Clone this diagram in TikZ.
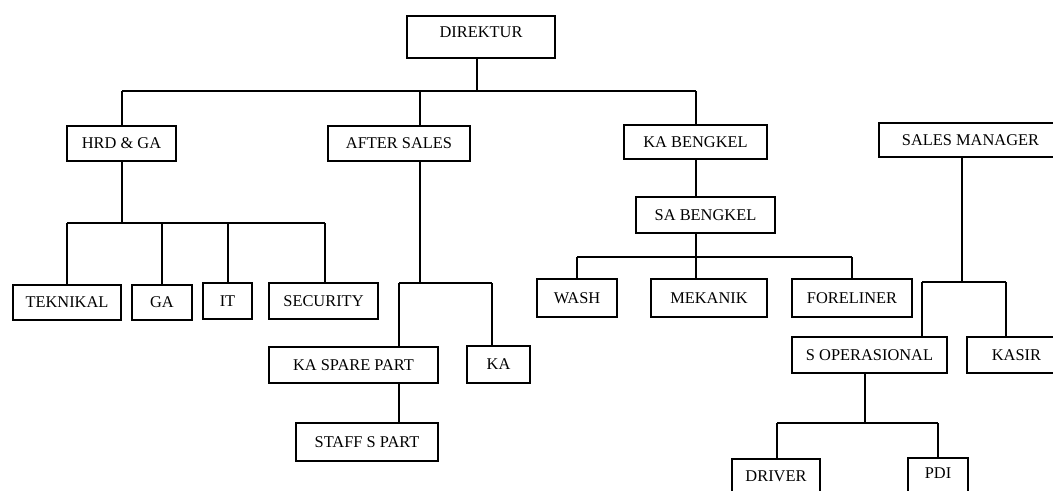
\documentclass[tikz,border=0pt]{standalone}
\usepackage{fontspec}
\setmainfont{Liberation Serif}
\usetikzlibrary{fit}
\tikzset{
  unit/.style={draw=black, line width=1.6pt, inner sep=0pt},
  unitlabel/.style={inner sep=0pt, font=\fontsize{12.3}{14}\selectfont},
  conn/.style={draw=black, line width=1.1pt},
  connthick/.style={draw=black, line width=1.9pt},
}
% box given by its pixel corners, with its caption inside
% (optional argument: vertical shift of the caption)
\newcommand{\orgbox}[7][0pt]{%
  \node[unit, fit={(#3,#4) (#5,#6)}] (#2) {};
  \node[unitlabel, yshift=#1] (#2-t) at (#2.center) {#7};}
\begin{document}
\begin{tikzpicture}[x=0.75pt, y=-0.75pt]
\useasboundingbox (0,0) rectangle (1053,490);
\clip (0,0) rectangle (1053,490);
\fill[white] (0,0) rectangle (1053,490);

% units
\orgbox[3.5pt]{dir}{407}{16}{555}{58}{DIREKTUR}
\orgbox{hrd}{67}{126}{176}{161}{HRD \& GA}
\orgbox{as}{328}{126}{470}{161}{AFTER SALES}
\orgbox{kab}{624}{125}{767}{159}{KA BENGKEL}
\orgbox{sm}{879}{123}{1062}{157}{SALES MANAGER\hspace{14pt}}
\orgbox{tek}{13}{285}{121}{320}{TEKNIKAL}
\orgbox{ga}{132}{285}{192}{320}{GA}
\orgbox{it}{203}{283}{252}{319}{IT}
\orgbox{sec}{269}{283}{378}{319}{SECURITY}
\orgbox{kasp}{269}{347}{438}{383}{KA SPARE PART}
\orgbox{ka}{467}{346}{530}{383}{KA}
\orgbox{ssp}{296}{423}{438}{461}{STAFF S PART}
\orgbox{sab}{636}{197}{775}{233}{SA BENGKEL}
\orgbox{wash}{537}{279}{617}{317}{WASH}
\orgbox{mek}{651}{279}{767}{317}{MEKANIK}
\orgbox{fore}{792}{279}{912}{317}{FORELINER}
\orgbox{sop}{792}{337}{947}{373}{S OPERASIONAL}
\orgbox{kasir}{967}{337}{1066}{373}{KASIR}
\orgbox{drv}{732}{459}{820}{494}{DRIVER}
\orgbox[3pt]{pdi}{908}{458}{968}{496}{PDI}

% branch points
\coordinate (d0) at (477,91);
\coordinate (dL) at (122,91);
\coordinate (dM) at (420,91);
\coordinate (dR) at (696,91);
\coordinate (h0) at (122,223);
\coordinate (hL) at (67,223);
\coordinate (hG) at (162,223);
\coordinate (hI) at (228,223);
\coordinate (hS) at (325,223);
\coordinate (a0) at (420,283);
\coordinate (aL) at (399,283);
\coordinate (aR) at (492,283);
\coordinate (s0) at (696,257);
\coordinate (sL) at (577,257);
\coordinate (sR) at (852,257);
\coordinate (m0) at (962,282);
\coordinate (mL) at (922,282);
\coordinate (mR) at (1006,282);
\coordinate (o0) at (865,423);
\coordinate (oL) at (777,423);
\coordinate (oR) at (938,423);

% direktur level
\draw[conn] (dir.south -| d0) -- (d0);
\draw[conn] (dL) -- (dR);
\draw[conn] (dL) -- (hrd.north -| dL);
\draw[conn] (dM) -- (as.north -| dM);
\draw[conn] (dR) -- (kab.north -| dR);

% HRD & GA
\draw[conn] (hrd.south -| h0) -- (h0);
\draw[conn] (hL) -- (hS);
\draw[connthick] (hL) -- (tek.north -| hL);
\draw[conn] (hG) -- (ga.north -| hG);
\draw[conn] (hI) -- (it.north -| hI);
\draw[connthick] (hS) -- (sec.north -| hS);

% after sales
\draw[connthick] (as.south -| a0) -- (a0);
\draw[connthick] (aL) -- (aR);
\draw[connthick] (aL) -- (kasp.north -| aL);
\draw[connthick] (aR) -- (ka.north -| aR);
\draw[connthick] (kasp.south -| aL) -- (ssp.north -| aL);

% bengkel
\draw[conn] (kab.south -| s0) -- (sab.north -| s0);
\draw[conn] (sab.south -| s0) -- (s0);
\draw[conn] (sL) -- (sR);
\draw[conn] (sL) -- (wash.north -| sL);
\draw[conn] (s0) -- (mek.north -| s0);
\draw[conn] (sR) -- (fore.north -| sR);

% sales
\draw[conn] (sm.south -| m0) -- (m0);
\draw[connthick] (mL) -- (mR);
\draw[connthick] (mL) -- (sop.north -| mL);
\draw[connthick] (mR) -- (kasir.north -| mR);
\draw[conn] (sop.south -| o0) -- (o0);
\draw[connthick] (oL) -- (oR);
\draw[connthick] (oL) -- (drv.north -| oL);
\draw[connthick] (oR) -- (pdi.north -| oR);
\end{tikzpicture}
\end{document}
